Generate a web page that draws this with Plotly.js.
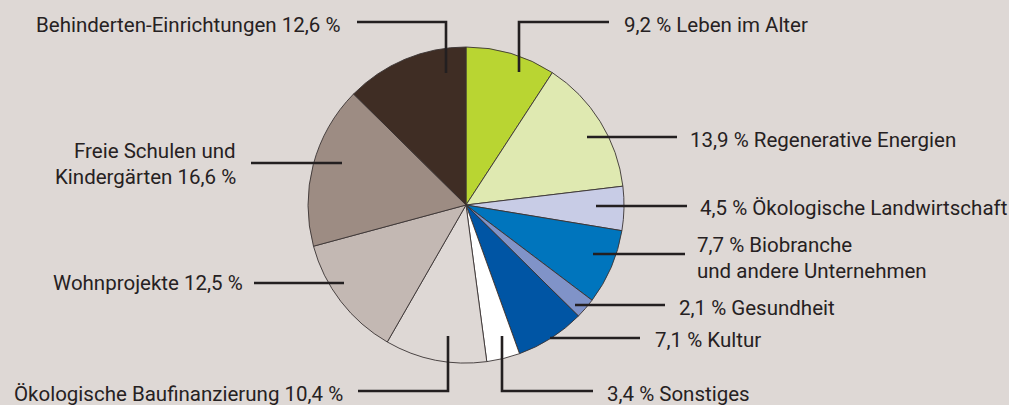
<!DOCTYPE html>
<html>
<head>
<meta charset="utf-8">
<script src="https://cdn.plot.ly/plotly-3.0.1.min.js"></script>
<style>html,body{margin:0;padding:0;background:#ded8d5;}#chart{width:1009px;height:405px;}</style>
</head>
<body>
<div id="chart"></div>
<script>
// ---- data ----
const labels = [
  "Leben im Alter",
  "Regenerative Energien",
  "Ökologische Landwirtschaft",
  "Biobranche\nund andere Unternehmen",
  "Gesundheit",
  "Kultur",
  "Sonstiges",
  "Ökologische Baufinanzierung",
  "Wohnprojekte",
  "Freie Schulen und\nKindergärten",
  "Behinderten-Einrichtungen"
];
const values = [9.2, 13.9, 4.5, 7.7, 2.1, 7.1, 3.4, 10.4, 12.5, 16.6, 12.6];
const colors = ["#b9d532", "#dfe9b1", "#c8cce6", "#0075bd", "#8093c8", "#0055a4",
                "#ffffff", "#ded8d5", "#c3b8b3", "#9d8c83", "#3f2d24"];

// ---- layout helpers (pixel positions of labels & leader lines) ----
const W = 1009, H = 405;
const FS = 20.5, LINE_GAP = 26;
const labelAnchor = [
  [622, 32], [688, 147], [698, 215], [695, 252], [677, 315], [653, 347],
  [605, 401], [345, 401], [245, 290], [238, 158], [342, 32]
];
const leaders = [
  [[609,22],[519,22],[519,72]],
  [[677,137],[587,137]],
  [[687,206],[596,206]],
  [[685,254],[593,254]],
  [[665,305],[575,305]],
  [[640,338],[550,338]],
  [[593,391],[502,391],[502,336]],
  [[358,391],[448,391],[448,336]],
  [[254,283],[344,283]],
  [[251,163],[342,163]],
  [[357,22],[446,22],[446,73]]
];
const cx = 466, cy = 205, R = 158;

const px = x => x / W;
const py = y => 1 - y / H;
const fmt = v => v.toFixed(1).replace('.', ',');

// side of each label from the slice mid-angle (clockwise from 12 o'clock)
const total = values.reduce((a, b) => a + b, 0);
let cum = 0;
const sides = values.map(v => { const mid = (cum + v / 2) / total * 360; cum += v; return mid < 180 ? 'right' : 'left'; });

const annotations = [];
labels.forEach((lab, i) => {
  const lines = lab.split('\n');
  if (sides[i] === 'right') lines[0] = fmt(values[i]) + ' % ' + lines[0];
  else lines[lines.length - 1] = lines[lines.length - 1] + ' ' + fmt(values[i]) + ' %';
  lines.forEach((t, k) => {
    annotations.push({
      text: t, xref: 'paper', yref: 'paper',
      x: px(labelAnchor[i][0]), y: py(labelAnchor[i][1] + k * LINE_GAP - 7),
      xanchor: sides[i] === 'right' ? 'left' : 'right', yanchor: 'middle',
      showarrow: false, font: {family: 'Roboto, sans-serif', size: FS, color: '#262122'}
    });
  });
});

const shapes = leaders.map(pts => ({
  type: 'path', xref: 'paper', yref: 'paper',
  path: pts.map((p, k) => (k ? 'L' : 'M') + px(p[0]) + ',' + py(p[1])).join(' '),
  line: {color: '#231f20', width: 2.6}
}));

const trace = {
  type: 'pie', labels: labels, values: values, sort: false, direction: 'clockwise', rotation: 0,
  marker: {colors: colors, line: {color: '#3a3333', width: 0.9}},
  textinfo: 'none', hoverinfo: 'skip', showlegend: false,
  domain: {x: [px(cx - R), px(cx + R)], y: [py(cy + R), py(cy - R)]}
};

Plotly.newPlot('chart', [trace], {
  width: W, height: H, margin: {l: 0, r: 0, t: 0, b: 0},
  paper_bgcolor: '#ded8d5', plot_bgcolor: '#ded8d5',
  annotations: annotations, shapes: shapes, showlegend: false
}, {displayModeBar: false, staticPlot: true});
</script>
</body>
</html>
